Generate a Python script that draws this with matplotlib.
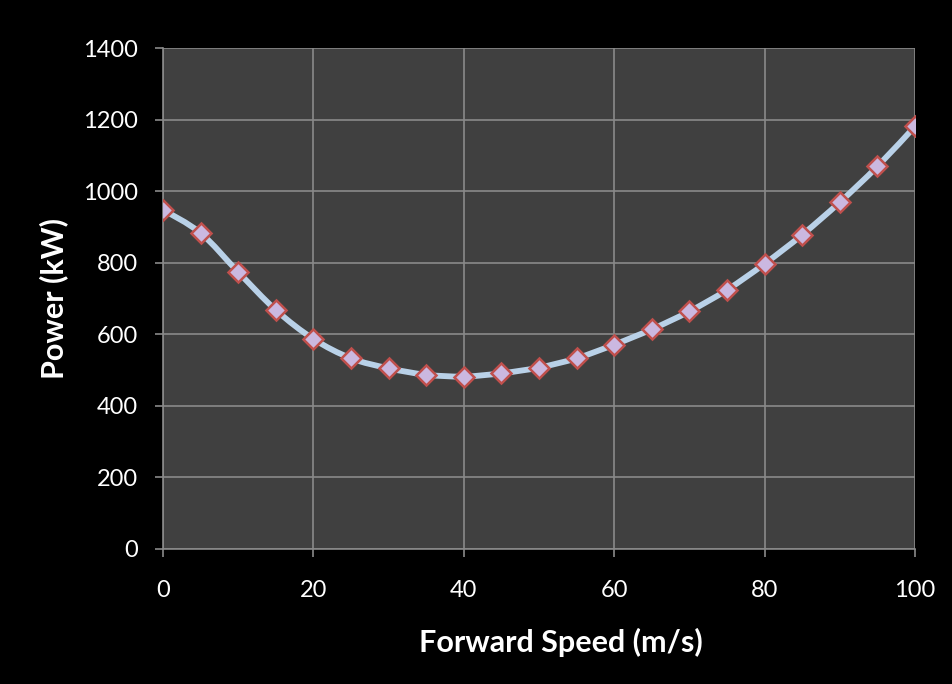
import numpy as np
import matplotlib
matplotlib.use("Agg")
import matplotlib.pyplot as plt
from matplotlib.path import Path
from matplotlib.patches import PathPatch

# ── Data ─────────────────────────────────────────────────────────
speed = [0, 5, 10, 15, 20, 25, 30, 35, 40, 45, 50,
         55, 60, 65, 70, 75, 80, 85, 90, 95, 100]
power = [948, 883, 774, 668, 587, 533, 505, 487, 482, 491, 507,
         533, 571, 614, 664, 724, 797, 878, 969, 1069, 1181]
x_ticks = [0, 20, 40, 60, 80, 100]
y_ticks = [0, 200, 400, 600, 800, 1000, 1200, 1400]

BG_C    = "#000000"
PLOT_C  = "#404040"
GRID_C  = "#8a8a8a"
TEXT_C  = "#ffffff"
LINE_C  = "#b9d1e8"
MFACE_C = "#cbb8e0"
MEDGE_C = "#c0504d"

plt.rcParams["font.family"] = ["Lato", "DejaVu Sans"]

fig = plt.figure(figsize=(9.52, 6.84), dpi=100)
fig.patch.set_facecolor(BG_C)
ax = fig.add_axes([0.1712, 0.1974, 0.7899, 0.7324])
ax.set_facecolor(PLOT_C)

# smooth line (Catmull-Rom -> cubic bezier), like Excel's smoothed line
xs = np.array(speed, dtype=float)
ys = np.array(power, dtype=float)
verts = [(xs[0], ys[0])]
codes = [Path.MOVETO]
n = len(xs)
for i in range(n - 1):
    p0 = np.array([xs[max(i - 1, 0)], ys[max(i - 1, 0)]])
    p1 = np.array([xs[i], ys[i]])
    p2 = np.array([xs[i + 1], ys[i + 1]])
    p3 = np.array([xs[min(i + 2, n - 1)], ys[min(i + 2, n - 1)]])
    c1 = p1 + (p2 - p0) / 6.0
    c2 = p2 - (p3 - p1) / 6.0
    verts += [tuple(c1), tuple(c2), tuple(p2)]
    codes += [Path.CURVE4] * 3
ax.add_patch(PathPatch(Path(verts, codes), facecolor="none", edgecolor=LINE_C,
                       linewidth=4.2, capstyle="round", joinstyle="round", zorder=3))

ax.plot(speed, power, linestyle="none", marker="D", markersize=10,
        markerfacecolor=MFACE_C, markeredgecolor=MEDGE_C, markeredgewidth=1.8, zorder=4)

ax.set_xlim(0, 100)
ax.set_ylim(0, 1400)
ax.set_xticks(x_ticks)
ax.set_yticks(y_ticks)
ax.grid(True, color=GRID_C, linewidth=1.2)
ax.set_axisbelow(True)
for s in ["top", "right"]:
    ax.spines[s].set_visible(False)
for s in ["left", "bottom"]:
    ax.spines[s].set_color(GRID_C)
    ax.spines[s].set_linewidth(1.2)
ax.tick_params(colors=GRID_C, labelcolor=TEXT_C, labelsize=17, length=6, width=1.2,
               direction="out")
ax.tick_params(axis="x", pad=16)
ax.tick_params(axis="y", pad=12)

ax.set_xlabel("Forward Speed (m/s)", color=TEXT_C, fontsize=22, fontweight="bold", labelpad=20)
ax.xaxis.label.set_x(0.529)
ax.set_ylabel("Power (kW)", color=TEXT_C, fontsize=22, fontweight="bold", labelpad=11)

fig.savefig("out.png", dpi=100, facecolor=fig.get_facecolor())
